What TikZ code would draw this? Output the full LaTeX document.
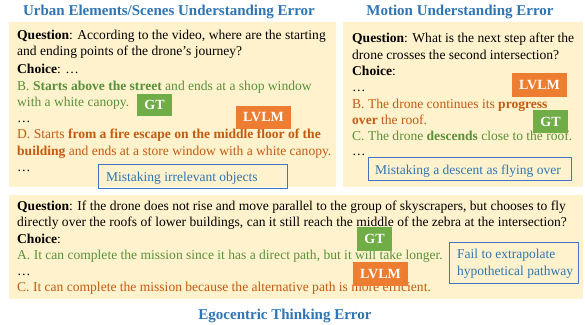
\documentclass[tikz,border=0pt]{standalone}
\usepackage{fontspec}
\setmainfont{Liberation Serif}
\definecolor{panelbg}{HTML}{FFF2CC}
\definecolor{titleblue}{HTML}{2E75B6}
\definecolor{boxblue}{HTML}{4472C4}
\definecolor{okgreen}{HTML}{58913C}
\definecolor{badorange}{HTML}{C55A11}
\definecolor{gtfill}{HTML}{70AD47}
\definecolor{lvlmfill}{HTML}{ED7D31}
\tikzset{
  panel/.style={fill=panelbg, draw=none},
  heading/.style={anchor=base, font=\fontsize{15}{17}\selectfont\bfseries, text=titleblue, inner sep=0pt},
  line/.style={anchor=base west, font=\fontsize{13.55}{15}\selectfont, inner sep=0pt},
  good/.style={line, text=okgreen},
  bad/.style={line, text=badorange},
  tag/.style={draw=none, text=white, font=\fontsize{14}{15}\selectfont\bfseries, inner sep=0pt},
  note/.style={draw=boxblue, line width=0.8pt, fill=none},
  notetext/.style={anchor=base west, text=titleblue, font=\fontsize{13.5}{15}\selectfont, inner sep=0pt, align=left}
}
\begin{document}
\begin{tikzpicture}[x=1pt, y=-1pt]
\useasboundingbox (0,0) rectangle (585,324);
\fill[white] (0,0) rectangle (585,324);

% panels
\fill[panel] (9,22) rectangle (336,187);
\fill[panel] (343,22) rectangle (583,187);
\fill[panel] (9,195) rectangle (583,299);

% headings
\node[heading] (h1) at (169,15) {Urban Elements/Scenes Understanding Error};
\node[heading] (h2) at (460,15) {Motion Understanding Error};
\node[heading] (h3) at (285,319) {Egocentric Thinking Error};

% left panel
\node[line] (a1) at (17,39.5) {\textbf{Question}: According to the video, where are the starting};
\node[line] (a2) at (17,55.5) {and ending points of the drone’s journey?};
\node[line] (a3) at (17,73.5) {\textbf{Choice}: …};
\node[good] (a4) at (17,90) {B. \textbf{Starts above the street} and ends at a shop window};
\node[good] (a5) at (17,106.5) {with a white canopy.};
\node[line] (a6) at (17,122.5) {…};
\node[bad] (a7) at (17,138.5) {D. Starts \textbf{from a fire escape on the middle floor of the}};
\node[bad] (a8) at (17,155) {\textbf{building} and ends at a store window with a white canopy.};
\node[line] (a9) at (17,171.5) {…};
\fill[gtfill] (137,94) rectangle (172,116);
\node[tag] (gt1) at (154.5,105) {GT};
\fill[lvlmfill] (236,106) rectangle (291,129);
\node[tag] (lv1) at (263.5,117.5) {LVLM};
\draw[note] (98,164) rectangle (287,188);
\node[notetext] (n1) at (106,181) {Mistaking irrelevant objects};

% right panel
\node[line] (b1) at (352,42.5) {\textbf{Question}: What is the next step after the};
\node[line] (b2) at (352,59) {drone crosses the second intersection?};
\node[line] (b3) at (352,75) {\textbf{Choice}:};
\node[line] (b4) at (352,91.5) {…};
\node[bad] (b5) at (352,108) {B. The drone continues its \textbf{progress}};
\node[bad] (b6) at (352,124) {\textbf{over} the roof.};
\node[good] (b7) at (352,140.5) {C. The drone \textbf{descends} close to the roof.};
\node[line] (b8) at (352,155) {…};
\fill[lvlmfill] (512,73) rectangle (567,97);
\node[tag] (lv2) at (539.5,85) {LVLM};
\fill[gtfill] (533,110) rectangle (568,133);
\node[tag] (gt2) at (550.5,121.5) {GT};
\draw[note] (368,157) rectangle (571,180);
\node[notetext] (n2) at (375,174) {Mistaking a descent as flying over};

% bottom panel
\node[line] (c1) at (17,210) {\textbf{Question}: If the drone does not rise and move parallel to the group of skyscrapers, but chooses to fly};
\node[line] (c2) at (17,226.5) {directly over the roofs of lower buildings, can it still reach the middle of the zebra at the intersection?};
\node[line] (c3) at (17,243) {\textbf{Choice}:};
\node[good] (c4) at (17,259.5) {A. It can complete the mission since it has a direct path, but it will take longer.};
\node[line] (c5) at (17,275.5) {…};
\node[bad] (c6) at (17,291.5) {C. It can complete the mission because the alternative path is more efficient.};
\fill[gtfill] (357,227) rectangle (392,251);
\node[tag] (gt3) at (374.5,239) {GT};
\fill[lvlmfill] (353,262) rectangle (408,286);
\node[tag] (lv3) at (380.5,274) {LVLM};
\draw[note] (449,242) rectangle (578,283);
\node[notetext] (n3a) at (457,258) {Fail to extrapolate};
\node[notetext] (n3b) at (457,275) {hypothetical pathway};
\end{tikzpicture}
\end{document}
